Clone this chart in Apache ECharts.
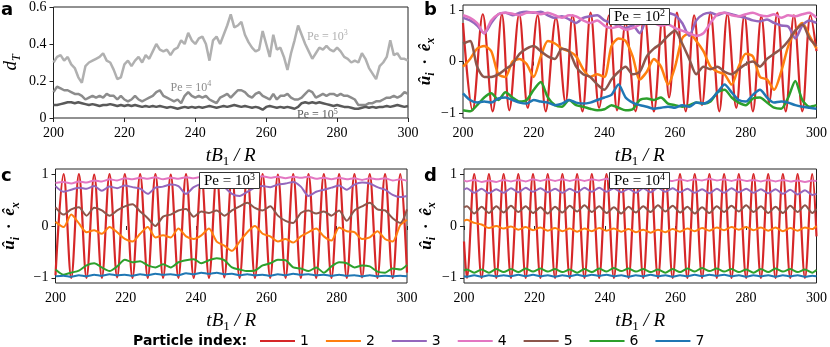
<!DOCTYPE html>
<html>
<head>
<meta charset="utf-8">
<script src="https://cdn.jsdelivr.net/npm/echarts@6/dist/echarts.min.js"></script>
<style>
  html, body { margin: 0; padding: 0; background: #fff; }
  #main { width: 830px; height: 347px; }
</style>
</head>
<body>
<div id="main"></div>
<script>
// ---- data ----
const particleNames = ["1", "2", "3", "4", "5", "6", "7"];
const particleColors = ["#d62728", "#ff7f0e", "#9467bd", "#e377c2", "#8c564b", "#2ca02c", "#1f77b4"];
const xTicks = [200, 220, 240, 260, 280, 300];
const yTicksU = [-1, 0, 1];

// panel a: time step 1
const timeA = [];
for (let t = 200; t <= 300; t++) timeA.push(t);

const dT_Pe1e3 = [
  0.30, 0.33, 0.34, 0.31, 0.33, 0.29, 0.27, 0.22, 0.19, 0.28,
  0.30, 0.31, 0.32, 0.33, 0.35, 0.31, 0.30, 0.26, 0.21, 0.22,
  0.29, 0.31, 0.28, 0.31, 0.33, 0.30, 0.34, 0.32, 0.36, 0.40,
  0.37, 0.36, 0.37, 0.34, 0.37, 0.38, 0.42, 0.40, 0.46, 0.42,
  0.40, 0.43, 0.44, 0.40, 0.31, 0.42, 0.44, 0.40, 0.45, 0.50,
  0.56, 0.49, 0.50, 0.52, 0.45, 0.41, 0.38, 0.36, 0.37, 0.47,
  0.40, 0.33, 0.45, 0.37, 0.38, 0.33, 0.26, 0.35, 0.42, 0.50,
  0.45, 0.40, 0.36, 0.32, 0.35, 0.38, 0.37, 0.39, 0.37, 0.36,
  0.38, 0.36, 0.33, 0.32, 0.30, 0.31, 0.30, 0.35, 0.32, 0.27,
  0.24, 0.21, 0.28, 0.30, 0.33, 0.42, 0.34, 0.35, 0.32, 0.32,
  0.31
];
const dT_Pe1e4 = [
  0.14, 0.17, 0.16, 0.15, 0.15, 0.14, 0.13, 0.13, 0.12, 0.10,
  0.11, 0.12, 0.11, 0.12, 0.11, 0.13, 0.12, 0.12, 0.10, 0.12,
  0.10, 0.09, 0.10, 0.12, 0.10, 0.09, 0.10, 0.11, 0.12, 0.14,
  0.15, 0.12, 0.11, 0.10, 0.09, 0.10, 0.08, 0.12, 0.14, 0.12,
  0.11, 0.12, 0.11, 0.12, 0.10, 0.09, 0.08, 0.11, 0.12, 0.13,
  0.11, 0.13, 0.15, 0.15, 0.14, 0.12, 0.11, 0.13, 0.14, 0.12,
  0.11, 0.10, 0.13, 0.10, 0.12, 0.12, 0.13, 0.11, 0.10, 0.10,
  0.11, 0.13, 0.15, 0.14, 0.11, 0.12, 0.13, 0.12, 0.13, 0.13,
  0.12, 0.13, 0.12, 0.12, 0.11, 0.10, 0.07, 0.07, 0.07, 0.08,
  0.08, 0.09, 0.09, 0.10, 0.11, 0.11, 0.12, 0.11, 0.12, 0.14,
  0.13
];
const dT_Pe1e5 = [
  0.07, 0.07, 0.075, 0.08, 0.085, 0.085, 0.08, 0.085, 0.08, 0.075,
  0.07, 0.075, 0.07, 0.065, 0.07, 0.07, 0.075, 0.07, 0.065, 0.07,
  0.065, 0.07, 0.065, 0.07, 0.065, 0.06, 0.065, 0.06, 0.065, 0.06,
  0.065, 0.06, 0.055, 0.06, 0.055, 0.05, 0.055, 0.06, 0.055, 0.06,
  0.055, 0.06, 0.055, 0.06, 0.065, 0.06, 0.055, 0.06, 0.065, 0.06,
  0.065, 0.07, 0.065, 0.06, 0.065, 0.06, 0.055, 0.06, 0.055, 0.045,
  0.06, 0.065, 0.06, 0.055, 0.06, 0.055, 0.06, 0.055, 0.05, 0.06,
  0.08, 0.085, 0.08, 0.085, 0.08, 0.085, 0.08, 0.075, 0.07, 0.065,
  0.07, 0.065, 0.06, 0.06, 0.055, 0.05, 0.05, 0.055, 0.06, 0.055,
  0.06, 0.055, 0.06, 0.06, 0.065, 0.06, 0.065, 0.07, 0.065, 0.06,
  0.065
];

// panel b (Pe = 10^2): particle 1 at its turning points, others every 2 time units
const timeBRed = [
  200, 202.7, 205.6, 208.4, 211.0, 213.1, 215.9, 218.3, 221.1, 223.4,
  226.3, 229.0, 231.0, 233.8, 236.1, 238.5, 241.3, 243.6, 246.0, 248.8,
  251.3, 254.0, 256.5, 258.3, 260.5, 263.0, 265.4, 267.6, 270.0, 272.5,
  274.8, 277.3, 279.6, 282.0, 284.4, 286.6, 288.9, 291.3, 293.6, 296.0,
  298.3, 300
];
const timeB = [];
for (let t = 200; t <= 300; t += 2) timeB.push(t);

const b1 = [
  0.75, -0.95, 0.92, -0.97, 0.92, -0.95, 0.92, -0.9, 0.9, -0.97,
  0.85, -0.8, 0.9, -0.97, 0.95, -0.9, 0.9, -0.95, 0.75, -0.97,
  0.92, -0.97, 0.9, -0.7, 0.95, -0.97, 0.9, -0.85, 0.95, -0.97,
  0.92, -0.9, 0.9, -0.97, 0.88, -0.8, 0.95, -0.97, 0.9, -0.97,
  0.9, 0.2
];
const b2 = [
  -0.1, 0.05, 0.25, 0.3, 0.2, -0.25, -0.3, 0.0, 0.05, -0.05,
  -0.3, 0.1, 0.4, 0.35, 0.25, 0.2, 0.1, -0.15, -0.3, -0.25,
  -0.3, 0.3, 0.45, 0.4, 0.1, -0.35, -0.2, 0.05, -0.1, -0.45,
  -0.1, 0.45, 0.55, 0.4, 0.2, -0.1, -0.2, -0.25, -0.45, -0.1,
  0.15, 0.1, -0.3, -0.35, -0.55, -0.2, 0.3, 0.6, 0.75, 0.5,
  0.25
];
const b3 = [
  0.85, 0.8, 0.7, 0.55, 0.75, 0.92, 0.95, 0.9, 0.95, 0.97,
  0.95, 0.97, 0.9, 0.85, 0.88, 0.82, 0.75, 0.85, 0.88, 0.9,
  0.8, 0.75, 0.7, 0.65, 0.7, 0.55, 0.85, 0.95, 0.97, 0.95,
  0.9, 0.75, 0.5, 0.8, 0.92, 0.95, 0.9, 0.95, 0.92, 0.88,
  0.85, 0.8, 0.78, 0.82, 0.75, 0.7, 0.68, 0.45, 0.7, 0.8,
  0.75
];
const b4 = [
  0.9, 0.85, 0.75, 0.55, 0.8, 0.92, 0.95, 0.93, 0.9, 0.95,
  0.96, 0.92, 0.95, 0.9, 0.85, 0.9, 0.88, 0.8, 0.75, 0.8,
  0.7, 0.65, 0.68, 0.62, 0.65, 0.72, 0.78, 0.75, 0.7, 0.72,
  0.65, 0.6, 0.55, 0.5, 0.55, 0.75, 0.92, 0.95, 0.9, 0.88,
  0.92, 0.95, 0.9, 0.88, 0.92, 0.85, 0.9, 0.88, 0.92, 0.95,
  0.85
];
const b5 = [
  0.35, 0.4, -0.1, -0.3, -0.3, -0.25, -0.15, -0.05, 0.15, 0.25,
  0.3, 0.2, 0.1, 0.05, 0.25, 0.2, -0.1, -0.25, -0.3, -0.45,
  -0.55, -0.35, -0.2, -0.1, -0.25, -0.2, 0.1, 0.25, 0.35, 0.5,
  0.6, 0.35, 0.05, -0.25, -0.1, -0.15, -0.1, -0.2, -0.25, -0.15,
  -0.05, 0.0, -0.1, 0.05, 0.15, 0.25, 0.4, 0.6, 0.72, 0.45,
  0.3
];
const b6 = [
  -0.95, -0.97, -0.85, -0.7, -0.62, -0.75, -0.6, -0.7, -0.78, -0.75,
  -0.55, -0.4, -0.7, -0.85, -0.88, -0.75, -0.85, -0.88, -0.92, -0.95,
  -0.93, -0.85, -0.9, -0.95, -0.93, -0.75, -0.72, -0.75, -0.7, -0.82,
  -0.85, -0.88, -0.85, -0.8, -0.82, -0.78, -0.6, -0.55, -0.7, -0.8,
  -0.85, -0.72, -0.7, -0.8, -0.9, -0.92, -0.7, -0.38, -0.75, -0.88,
  -0.85
];
const b7 = [
  -0.62, -0.75, -0.8, -0.78, -0.8, -0.72, -0.7, -0.75, -0.8, -0.82,
  -0.75, -0.78, -0.8, -0.85, -0.82, -0.75, -0.8, -0.82, -0.8, -0.75,
  -0.7, -0.65, -0.45, -0.7, -0.8, -0.85, -0.88, -0.92, -0.9, -0.88,
  -0.9, -0.85, -0.88, -0.8, -0.82, -0.75, -0.6, -0.45, -0.6, -0.75,
  -0.78, -0.65, -0.55, -0.7, -0.8, -0.78, -0.8, -0.85, -0.88, -0.9,
  -0.92
];

// panel c (Pe = 10^3): sampled at the turning points of particle 1
const timeC = [
  200, 202.30, 204.48, 206.66, 208.83, 211.01, 213.19, 215.37, 217.54, 219.72,
  221.90, 224.08, 226.25, 228.43, 230.61, 232.79, 234.96, 237.14, 239.32, 241.50,
  243.67, 245.85, 248.03, 250.21, 252.38, 254.56, 256.74, 258.92, 261.09, 263.27,
  265.45, 267.63, 269.80, 271.98, 274.16, 276.34, 278.51, 280.69, 282.87, 285.05,
  287.22, 289.40, 291.58, 293.76, 295.93, 298.11, 300
];
const c1 = [
  -0.95, 1, -1, 1, -1, 0.99, -1, 1, -0.99, 1,
  -1, 1, -1, 1, -1, 0.99, -1, 1, -1, 1,
  -1, 1, -0.99, 1, -1, 1, -1, 1, -1, 0.99,
  -1, 1, -1, 1, -1, 1, -1, 1, -1, 1,
  -0.99, 1, -1, 1, -1, 1, -0.9
];
const c2 = [
  0.08, -0.02, 0.22, 0.05, -0.12, -0.08, -0.15, -0.02, -0.12, -0.25,
  -0.3, -0.15, -0.02, -0.22, -0.18, -0.22, -0.05, -0.2, -0.25, -0.18,
  -0.05, -0.3, -0.38, -0.48, -0.3, -0.12, 0.0, -0.15, -0.2, -0.3,
  -0.25, -0.32, -0.2, -0.12, -0.05, -0.2, -0.28, -0.03, -0.1, -0.12,
  -0.25, -0.22, -0.1, -0.25, -0.3, 0.02, 0.12
];
const c3 = [
  0.77, 0.66, 0.7, 0.74, 0.72, 0.77, 0.68, 0.76, 0.73, 0.78,
  0.75, 0.72, 0.62, 0.74, 0.76, 0.8, 0.77, 0.62, 0.75, 0.8,
  0.78, 0.82, 0.75, 0.62, 0.58, 0.66, 0.74, 0.77, 0.75, 0.8,
  0.82, 0.85, 0.76, 0.58, 0.66, 0.7, 0.74, 0.78, 0.7, 0.8,
  0.84, 0.82, 0.75, 0.7, 0.6, 0.56, 0.58
];
const c4 = [
  0.83, 0.85, 0.82, 0.86, 0.84, 0.88, 0.86, 0.9, 0.88, 0.92,
  0.9, 0.93, 0.91, 0.94, 0.9, 0.93, 0.91, 0.94, 0.92, 0.95,
  0.9, 0.93, 0.91, 0.94, 0.92, 0.95, 0.93, 0.96, 0.93, 0.95,
  0.92, 0.95, 0.93, 0.95, 0.91, 0.93, 0.9, 0.93, 0.9, 0.92,
  0.89, 0.92, 0.9, 0.92, 0.88, 0.9, 0.87
];
const c5 = [
  0.36, 0.22, 0.32, 0.36, 0.2, 0.35, 0.3, 0.2, 0.3, 0.38,
  0.42, 0.28, 0.15, 0.0, 0.18, 0.22, 0.3, 0.33, 0.18, 0.28,
  0.25, 0.3, 0.2, 0.3, 0.38, 0.45, 0.35, 0.3, 0.38, 0.2,
  0.1, 0.06, 0.25, 0.3, 0.24, 0.28, 0.2, 0.3, 0.1, 0.3,
  0.38, 0.45, 0.32, 0.3, 0.15, 0.06, 0.32
];
const c6 = [
  -0.84, -0.94, -0.9, -0.86, -0.76, -0.72, -0.8, -0.87, -0.78, -0.65,
  -0.7, -0.68, -0.76, -0.8, -0.74, -0.8, -0.7, -0.66, -0.64, -0.72,
  -0.66, -0.62, -0.66, -0.8, -0.84, -0.87, -0.86, -0.76, -0.72, -0.65,
  -0.66, -0.8, -0.82, -0.87, -0.8, -0.9, -0.78, -0.7, -0.72, -0.8,
  -0.76, -0.78, -0.88, -0.9, -0.82, -0.84, -0.75
];
const c7 = [
  -0.97, -0.96, -0.98, -0.95, -0.97, -0.94, -0.96, -0.93, -0.95, -0.94,
  -0.96, -0.93, -0.95, -0.92, -0.94, -0.93, -0.95, -0.91, -0.93, -0.9,
  -0.92, -0.9, -0.93, -0.92, -0.95, -0.93, -0.95, -0.94, -0.96, -0.93,
  -0.95, -0.92, -0.94, -0.93, -0.95, -0.94, -0.96, -0.94, -0.96, -0.95,
  -0.97, -0.95, -0.97, -0.96, -0.97, -0.96, -0.97
];

// panel d (Pe = 10^4)
const timeD = [
  200, 200.82, 202.90, 204.99, 207.07, 209.16, 211.24, 213.33, 215.41, 217.50,
  219.58, 221.67, 223.75, 225.84, 227.92, 230.01, 232.09, 234.18, 236.26, 238.35,
  240.43, 242.52, 244.60, 246.69, 248.77, 250.86, 252.94, 255.03, 257.11, 259.20,
  261.28, 263.37, 265.45, 267.54, 269.62, 271.71, 273.79, 275.88, 277.96, 280.05,
  282.13, 284.22, 286.30, 288.39, 290.47, 292.56, 294.64, 296.73, 298.81, 300
];
const d1 = [
  -0.3, -1, 1, -1, 1, -1, 1, -1, 1, -1,
  1, -1, 1, -1, 1, -1, 1, -1, 1, -1,
  1, -1, 1, -1, 1, -1, 1, -1, 1, -1,
  1, -1, 1, -1, 1, -1, 1, -1, 1, -1,
  1, -1, 1, -1, 1, -1, 1, -1, 1, -0.2
];
const d2 = [
  0.1, 0.12, 0.06, 0.03, -0.04, 0.0, -0.05, -0.01, -0.07, -0.02,
  -0.08, -0.03, -0.09, -0.04, -0.1, -0.05, -0.11, -0.05, -0.1, -0.04,
  -0.09, -0.05, -0.11, -0.06, -0.12, -0.07, -0.13, -0.07, -0.12, -0.06,
  -0.11, -0.05, -0.1, -0.04, -0.09, -0.03, -0.08, -0.02, -0.07, -0.02,
  -0.08, -0.03, -0.09, -0.03, -0.1, -0.04, -0.09, -0.03, -0.06, 0.0
];
const d3 = [
  0.7, 0.73, 0.64, 0.72, 0.63, 0.71, 0.64, 0.73, 0.65, 0.74,
  0.66, 0.73, 0.65, 0.72, 0.64, 0.72, 0.65, 0.74, 0.66, 0.74,
  0.66, 0.73, 0.65, 0.72, 0.64, 0.73, 0.65, 0.74, 0.66, 0.73,
  0.65, 0.72, 0.64, 0.71, 0.63, 0.72, 0.64, 0.73, 0.65, 0.72,
  0.64, 0.71, 0.63, 0.71, 0.62, 0.7, 0.61, 0.69, 0.6, 0.62
];
const d4 = [
  0.88, 0.86, 0.89, 0.85, 0.88, 0.85, 0.89, 0.86, 0.89, 0.86,
  0.9, 0.87, 0.9, 0.87, 0.9, 0.87, 0.9, 0.87, 0.9, 0.88,
  0.91, 0.88, 0.9, 0.87, 0.9, 0.87, 0.89, 0.86, 0.89, 0.87,
  0.9, 0.87, 0.9, 0.88, 0.91, 0.88, 0.9, 0.87, 0.9, 0.87,
  0.89, 0.86, 0.89, 0.86, 0.89, 0.86, 0.88, 0.85, 0.88, 0.87
];
const d5 = [
  0.36, 0.38, 0.24, 0.37, 0.25, 0.38, 0.26, 0.39, 0.27, 0.38,
  0.25, 0.36, 0.24, 0.37, 0.26, 0.39, 0.28, 0.4, 0.27, 0.38,
  0.25, 0.36, 0.24, 0.37, 0.26, 0.38, 0.27, 0.4, 0.28, 0.39,
  0.26, 0.37, 0.24, 0.36, 0.25, 0.38, 0.27, 0.39, 0.28, 0.4,
  0.27, 0.38, 0.25, 0.37, 0.25, 0.39, 0.27, 0.4, 0.25, 0.33
];
const d6 = [
  -0.86, -0.84, -0.9, -0.84, -0.9, -0.83, -0.89, -0.83, -0.89, -0.82,
  -0.88, -0.82, -0.88, -0.83, -0.89, -0.84, -0.9, -0.83, -0.89, -0.82,
  -0.88, -0.81, -0.87, -0.82, -0.88, -0.83, -0.89, -0.84, -0.9, -0.83,
  -0.89, -0.82, -0.88, -0.81, -0.87, -0.82, -0.88, -0.83, -0.89, -0.84,
  -0.9, -0.83, -0.89, -0.82, -0.88, -0.83, -0.89, -0.84, -0.9, -0.85
];
const d7 = [
  -0.97, -0.98, -0.95, -0.98, -0.95, -0.97, -0.95, -0.97, -0.94, -0.97,
  -0.94, -0.97, -0.95, -0.98, -0.95, -0.97, -0.94, -0.97, -0.94, -0.96,
  -0.94, -0.97, -0.95, -0.98, -0.95, -0.97, -0.94, -0.97, -0.95, -0.98,
  -0.95, -0.97, -0.94, -0.97, -0.94, -0.96, -0.94, -0.97, -0.95, -0.98,
  -0.95, -0.97, -0.95, -0.98, -0.95, -0.97, -0.95, -0.98, -0.96, -0.97
];

// ---- chart ----
const serif = "Liberation Serif";
const sans = "DejaVu Sans";
const ink = "#000";

function pairs(ts, vs) {
  return vs.map((v, i) => [ts[i], v]);
}

const tickFont = { fontFamily: serif, fontSize: 14, color: ink };
const mathRich = {
  i: { fontFamily: serif, fontStyle: "italic", fontWeight: "normal", fontSize: 19, lineHeight: 24, color: ink },
  r: { fontFamily: serif, fontWeight: "normal", fontSize: 13, lineHeight: 13, verticalAlign: "bottom", color: ink },
  si: { fontFamily: serif, fontStyle: "italic", fontWeight: "normal", fontSize: 12, lineHeight: 12, verticalAlign: "bottom", color: ink },
  b: { fontFamily: serif, fontStyle: "italic", fontWeight: "bold", fontSize: 17, lineHeight: 24, color: ink },
  bs: { fontFamily: serif, fontStyle: "italic", fontWeight: "bold", fontSize: 12, lineHeight: 12, verticalAlign: "bottom", color: ink },
};
const uName = "{b|û}{bs|i}{b|  ·  ê}{bs|x}";

function peRich(size, color) {
  return {
    n: { fontFamily: serif, fontWeight: "normal", fontSize: size, lineHeight: size + 3, color: color },
    p: { fontFamily: serif, fontWeight: "normal", fontSize: Math.round(size * 0.68), lineHeight: Math.round(size * 0.68), verticalAlign: "top", color: color },
  };
}

const grids = [
  { left: 53, top: 5, width: 355, height: 113 },
  { left: 463, top: 5, width: 355, height: 113 },
  { left: 53, top: 169, width: 354, height: 114 },
  { left: 464, top: 169, width: 354, height: 114 },
].map(g => Object.assign(g, { show: true, borderColor: "#222", borderWidth: 1, backgroundColor: "transparent" }));

const xAxes = [0, 1, 2, 3].map(i => ({
  gridIndex: i,
  type: "value",
  min: 200,
  max: 300,
  interval: 20,
  axisLine: { show: false },
  axisTick: { show: true, length: 4, lineStyle: { color: "#222" } },
  axisLabel: Object.assign({ margin: 8 }, tickFont),
  splitLine: { show: false },
  name: "{i|tB}{r|1}{i| / R}",
  nameLocation: "middle",
  nameGap: 26,
  nameTextStyle: { rich: mathRich },
}));

const uAxis = (i, gap) => ({
  gridIndex: i,
  type: "value",
  min: -1.1,
  max: 1.1,
  axisLine: { show: false },
  axisTick: { show: true, length: 4, customValues: yTicksU, lineStyle: { color: "#222" } },
  axisLabel: Object.assign({
    margin: 7,
    customValues: yTicksU,
    formatter: v => String(v).replace("-", "\u2212"),
  }, tickFont),
  splitLine: { show: false },
  name: uName,
  nameLocation: "middle",
  nameRotate: 90,
  nameGap: gap,
  nameTextStyle: { rich: mathRich },
});

const yAxes = [
  {
    gridIndex: 0,
    type: "value",
    min: 0,
    max: 0.6,
    interval: 0.2,
    axisLine: { show: false },
    axisTick: { show: true, length: 4, lineStyle: { color: "#222" } },
    axisLabel: Object.assign({ margin: 7 }, tickFont),
    splitLine: { show: false },
    name: "{i|d}{si|T}",
    nameLocation: "middle",
    nameRotate: 90,
    nameGap: 31,
    nameTextStyle: { rich: mathRich },
  },
  uAxis(1, 18),
  uAxis(2, 34),
  uAxis(3, 18),
];

function dTLine(name, vals, color, label, coord) {
  return {
    name: name,
    type: "line",
    xAxisIndex: 0,
    yAxisIndex: 0,
    data: pairs(timeA, vals),
    showSymbol: false,
    lineStyle: { color: color, width: 2.5 },
    itemStyle: { color: color },
    silent: true,
    markPoint: {
      symbol: "circle",
      symbolSize: 0,
      silent: true,
      label: {
        show: true,
        position: "right",
        distance: 0,
        formatter: label,
        rich: peRich(12, color),
      },
      data: [{ coord: coord }],
    },
  };
}

function particleLines(panel, sets, width) {
  return sets.map((s, k) => ({
    name: particleNames[k],
    type: "line",
    xAxisIndex: panel,
    yAxisIndex: panel,
    data: pairs(s[0], s[1]),
    showSymbol: false,
    smooth: k === 0 ? 0.35 : 0.25,
    lineStyle: { color: particleColors[k], width: k === 0 ? 2.2 : width },
    itemStyle: { color: particleColors[k] },
    silent: true,
  }));
}

const series = [
  dTLine("Pe 1e3", dT_Pe1e3, "#b0b0b0", "{n|Pe = 10}{p|3}", [271.5, 0.44]),
  dTLine("Pe 1e4", dT_Pe1e4, "#8c8c8c", "{n|Pe = 10}{p|4}", [233, 0.165]),
  dTLine("Pe 1e5", dT_Pe1e5, "#595959", "{n|Pe = 10}{p|5}", [268.7, 0.016]),
  ...particleLines(1, [[timeBRed, b1], [timeB, b2], [timeB, b3], [timeB, b4], [timeB, b5], [timeB, b6], [timeB, b7]], 2.5),
  ...particleLines(2, [[timeC, c1], [timeC, c2], [timeC, c3], [timeC, c4], [timeC, c5], [timeC, c6], [timeC, c7]], 2),
  ...particleLines(3, [[timeD, d1], [timeD, d2], [timeD, d3], [timeD, d4], [timeD, d5], [timeD, d6], [timeD, d7]], 2),
];

const letter = (t, left, top) => ({
  text: t, left: left, top: top, padding: 0,
  textStyle: { fontFamily: sans, fontWeight: "bold", fontSize: 18, color: ink },
});
const peBox = (p, left, top) => ({
  text: "{n|Pe = 10}{p|" + p + "}",
  left: left, top: top,
  padding: [0, 5, 0, 5],
  backgroundColor: "#fff",
  borderColor: "#333",
  borderWidth: 1,
  textStyle: { fontWeight: "normal", rich: peRich(15, ink) },
});

const option = {
  animation: false,
  backgroundColor: "#fff",
  title: [
    letter("a", 1, 1),
    letter("b", 424, 1),
    letter("c", 1, 167),
    letter("d", 424, 167),
    peBox("2", 609, 8),
    peBox("3", 199, 172),
    peBox("4", 609, 172),
    {
      text: "Particle index:", left: 133, top: 334, padding: 0,
      textStyle: { fontFamily: sans, fontWeight: "bold", fontSize: 14, color: ink },
    },
  ],
  legend: {
    data: particleNames,
    left: 260,
    top: 334,
    padding: 0,
    icon: "rect",
    itemWidth: 35,
    itemHeight: 2,
    itemGap: 17,
    selectedMode: false,
    textStyle: { fontFamily: sans, fontSize: 14, color: ink },
  },
  grid: grids,
  xAxis: xAxes,
  yAxis: yAxes,
  series: series,
};

const chart = echarts.init(document.getElementById("main"), null, { renderer: "canvas" });
chart.setOption(option);
</script>
</body>
</html>
